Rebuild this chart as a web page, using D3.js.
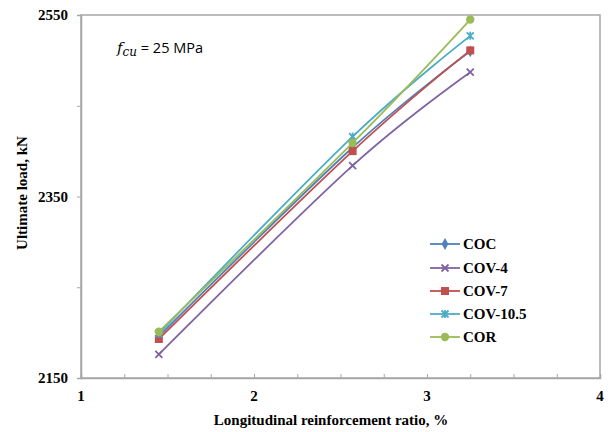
<!DOCTYPE html>
<html>
<head>
<meta charset="utf-8">
<script src="https://cdn.jsdelivr.net/npm/d3@7"></script>
<style>
  html, body { margin: 0; padding: 0; background: #fff; }
  svg { display: block; }
</style>
</head>
<body>
<svg id="chart" width="610" height="432"></svg>
<script>
// Longitudinal reinforcement ratio (%) of the three column groups
const ratios = [1.45, 2.57, 3.25];

// Ultimate load (kN) for each confinement configuration
const seriesNames = ["COC", "COV-4", "COV-7", "COV-10.5", "COR"];
const valuesCOC   = [2196, 2404, 2510];
const valuesCOV4  = [2176, 2384, 2487];
const valuesCOV7  = [2193, 2400, 2511];
const valuesCOV10 = [2199, 2416, 2527];
const valuesCOR   = [2201, 2409, 2545];

const xTicks = [1, 2, 3, 4];
const yTicks = [2150, 2350, 2550];

const colors  = ["#4F81BD", "#8064A2", "#C0504D", "#4BACC6", "#9BBB59"];
const markers = ["diamond", "x", "square", "star", "circle"];
const allValues = [valuesCOC, valuesCOV4, valuesCOV7, valuesCOV10, valuesCOR];

const series = seriesNames.map((name, i) => ({
  name,
  color: colors[i],
  marker: markers[i],
  points: ratios.map((r, j) => ({ x: r, y: allValues[i][j] }))
}));

const svg = d3.select("#chart");
const plotL = 81, plotR = 600, plotT = 15, plotB = 378;

const x = d3.scaleLinear().domain([1, 4]).range([plotL, plotR]);
const y = d3.scaleLinear().domain([2150, 2550]).range([plotB, plotT]);

const grey = "#A6A6A6";
const serif = "Liberation Serif";

function boldText(sel, size) {
  return sel.attr("font-family", serif)
    .attr("font-weight", "700")
    .attr("font-size", size)
    .attr("fill", "#000");
}

// Plot-area frame
svg.append("rect")
  .attr("x", plotL).attr("y", plotT)
  .attr("width", plotR - plotL).attr("height", plotB - plotT)
  .attr("fill", "none").attr("stroke", grey).attr("stroke-width", 1.5);

// Y axis: ticks every 100 kN
const gy = svg.append("g").attr("transform", `translate(${plotL},0)`)
  .call(d3.axisLeft(y).tickValues(d3.range(2150, 2551, 100)).tickSize(4).tickFormat(""));
gy.select(".domain").attr("stroke", grey).attr("stroke-width", 1.5);
gy.selectAll(".tick line").attr("stroke", grey);

// Y labels every 200 kN
boldText(svg.append("g").selectAll("text").data(yTicks).join("text"), 15)
  .attr("x", plotL - 13)
  .attr("y", d => y(d))
  .attr("dy", "0.34em")
  .attr("text-anchor", "end")
  .text(d => d);

// X axis: inside ticks every 0.25
const gx = svg.append("g").attr("transform", `translate(0,${plotB})`)
  .call(d3.axisBottom(x).tickValues(d3.range(1, 4.001, 0.25)).tickSize(-4).tickFormat(""));
gx.select(".domain").attr("stroke", grey).attr("stroke-width", 1.5);
gx.selectAll(".tick line").attr("stroke", grey);

// X labels on whole numbers
boldText(svg.append("g").selectAll("text").data(xTicks).join("text"), 15)
  .attr("x", d => x(d))
  .attr("y", plotB + 23)
  .attr("text-anchor", "middle")
  .text(d => d);

// Axis titles
boldText(svg.append("text"), 15)
  .attr("x", 331).attr("y", 425)
  .attr("text-anchor", "middle")
  .text("Longitudinal reinforcement ratio, %");

boldText(svg.append("text"), 15)
  .attr("transform", "translate(27,193) rotate(-90)")
  .attr("text-anchor", "middle")
  .text("Ultimate load, kN");

// Concrete strength note
const note = svg.append("text").attr("x", 117).attr("y", 53).attr("font-size", 15);
note.append("tspan").attr("font-family", "DejaVu Serif").attr("font-style", "italic")
  .attr("font-size", 15).text("f");
note.append("tspan").attr("font-family", "DejaVu Serif").attr("font-style", "italic")
  .attr("font-size", 12).attr("dy", 3).text("cu");
note.append("tspan").attr("font-family", "Open Sans")
  .attr("font-size", 14.5).attr("dy", -3).text(" = 25 MPa");

// Marker drawing
function drawMarker(g, type, color) {
  if (type === "diamond") {
    g.append("path").attr("d", d3.symbol(d3.symbolDiamond, 40)()).attr("fill", color);
  } else if (type === "square") {
    g.append("rect").attr("x", -4).attr("y", -4).attr("width", 8).attr("height", 8).attr("fill", color);
  } else if (type === "circle") {
    g.append("circle").attr("r", 4.2).attr("fill", color);
  } else if (type === "x") {
    g.append("path").attr("d", "M-3.5,-3.5L3.5,3.5M-3.5,3.5L3.5,-3.5")
      .attr("stroke", color).attr("stroke-width", 1.8).attr("fill", "none");
  } else if (type === "star") {
    g.append("path").attr("d", "M-3.5,-3.5L3.5,3.5M-3.5,3.5L3.5,-3.5M0,-4L0,4")
      .attr("stroke", color).attr("stroke-width", 1.8).attr("fill", "none");
  }
}

// Smoothed series lines
const line = d3.line()
  .x(d => x(d.x)).y(d => y(d.y))
  .curve(d3.curveCatmullRom.alpha(0));

series.forEach(s => {
  svg.append("path")
    .datum(s.points)
    .attr("d", line)
    .attr("fill", "none")
    .attr("stroke", s.color)
    .attr("stroke-width", 1.8);
  s.points.forEach(p => {
    const g = svg.append("g").attr("transform", `translate(${x(p.x)},${y(p.y)})`);
    drawMarker(g, s.marker, s.color);
  });
});

// Legend
const legendY = [244, 268, 291, 314, 337];
series.forEach((s, i) => {
  const g = svg.append("g").attr("transform", `translate(430,${legendY[i]})`);
  g.append("line").attr("x1", 0).attr("x2", 30).attr("y1", 0).attr("y2", 0)
    .attr("stroke", s.color).attr("stroke-width", 1.8);
  const m = g.append("g").attr("transform", "translate(15,0)");
  drawMarker(m, s.marker, s.color);
  boldText(g.append("text"), 15).attr("x", 33).attr("y", 5).text(s.name);
});
</script>
</body>
</html>
